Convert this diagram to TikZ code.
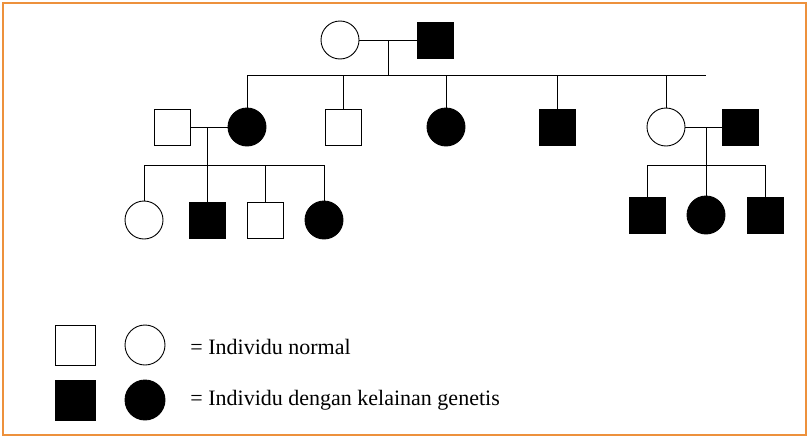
\documentclass[tikz,border=0pt]{standalone}
\usepackage{fontspec}
\setmainfont{Liberation Serif}
\begin{document}
\begin{tikzpicture}[x=1pt,y=-1pt,line width=0.9pt,
  sq/.style={draw,minimum size=36pt,inner sep=0pt,fill=white},
  sqf/.style={sq,fill=black},
  ci/.style={draw,circle,minimum size=38pt,inner sep=0pt,fill=white},
  cif/.style={ci,fill=black},
  lbl/.style={anchor=west,inner sep=0pt,font=\fontsize{22}{26}\selectfont}]
\useasboundingbox (0,0) rectangle (810,439);
\draw[line width=2pt,draw={rgb,255:red,237;green,145;blue,60}] (3,3) rectangle (806,435);
\coordinate (m1) at (388,40); \coordinate (s1) at (388,75);
\draw (340,40) -- (435,40);
\draw (m1) -- (s1);
\draw (247,75) -- (706,75);
\foreach \x in {247,343,446,557,666} \draw (\x,75) -- (\x,127);
\draw (172,127) -- (247,127);
\draw (207,127) -- (207,165);
\draw (144,165) -- (324,165);
\foreach \x in {144,207,265,324} \draw (\x,165) -- (\x,220);
\draw (666,127) -- (740,127);
\draw (706,127) -- (706,165);
\draw (647,165) -- (765,165);
\foreach \x in {647,706,765} \draw (\x,165) -- (\x,215);
\node[ci] (g1a) at (340,40) {};
\node[sqf] (g1b) at (435,40) {};
\node[sq] (h1) at (172,127) {};
\node[cif] (c1) at (247,127) {};
\node[sq] (c2) at (343,127) {};
\node[cif] (c3) at (446,127) {};
\node[sqf] (c4) at (557,127) {};
\node[ci] (c5) at (666,127) {};
\node[sqf] (h2) at (740,127) {};
\node[ci] (d1) at (144,220) {};
\node[sqf] (d2) at (207,220) {};
\node[sq] (d3) at (265,220) {};
\node[cif] (d4) at (324,220) {};
\node[sqf] (e1) at (647,215) {};
\node[cif] (e2) at (706,215) {};
\node[sqf] (e3) at (765,215) {};
\node[sq,minimum size=40pt] (l1) at (75,345) {};
\node[ci,minimum size=40pt] (l2) at (145,345) {};
\node[sqf,minimum size=40pt] (l3) at (75,400) {};
\node[cif,minimum size=40pt] (l4) at (145,400) {};
\node[lbl] (t1) at (190,347) {= Individu normal};
\node[lbl] (t2) at (190,400) {= Individu dengan kelainan  genetis};
\end{tikzpicture}
\end{document}
